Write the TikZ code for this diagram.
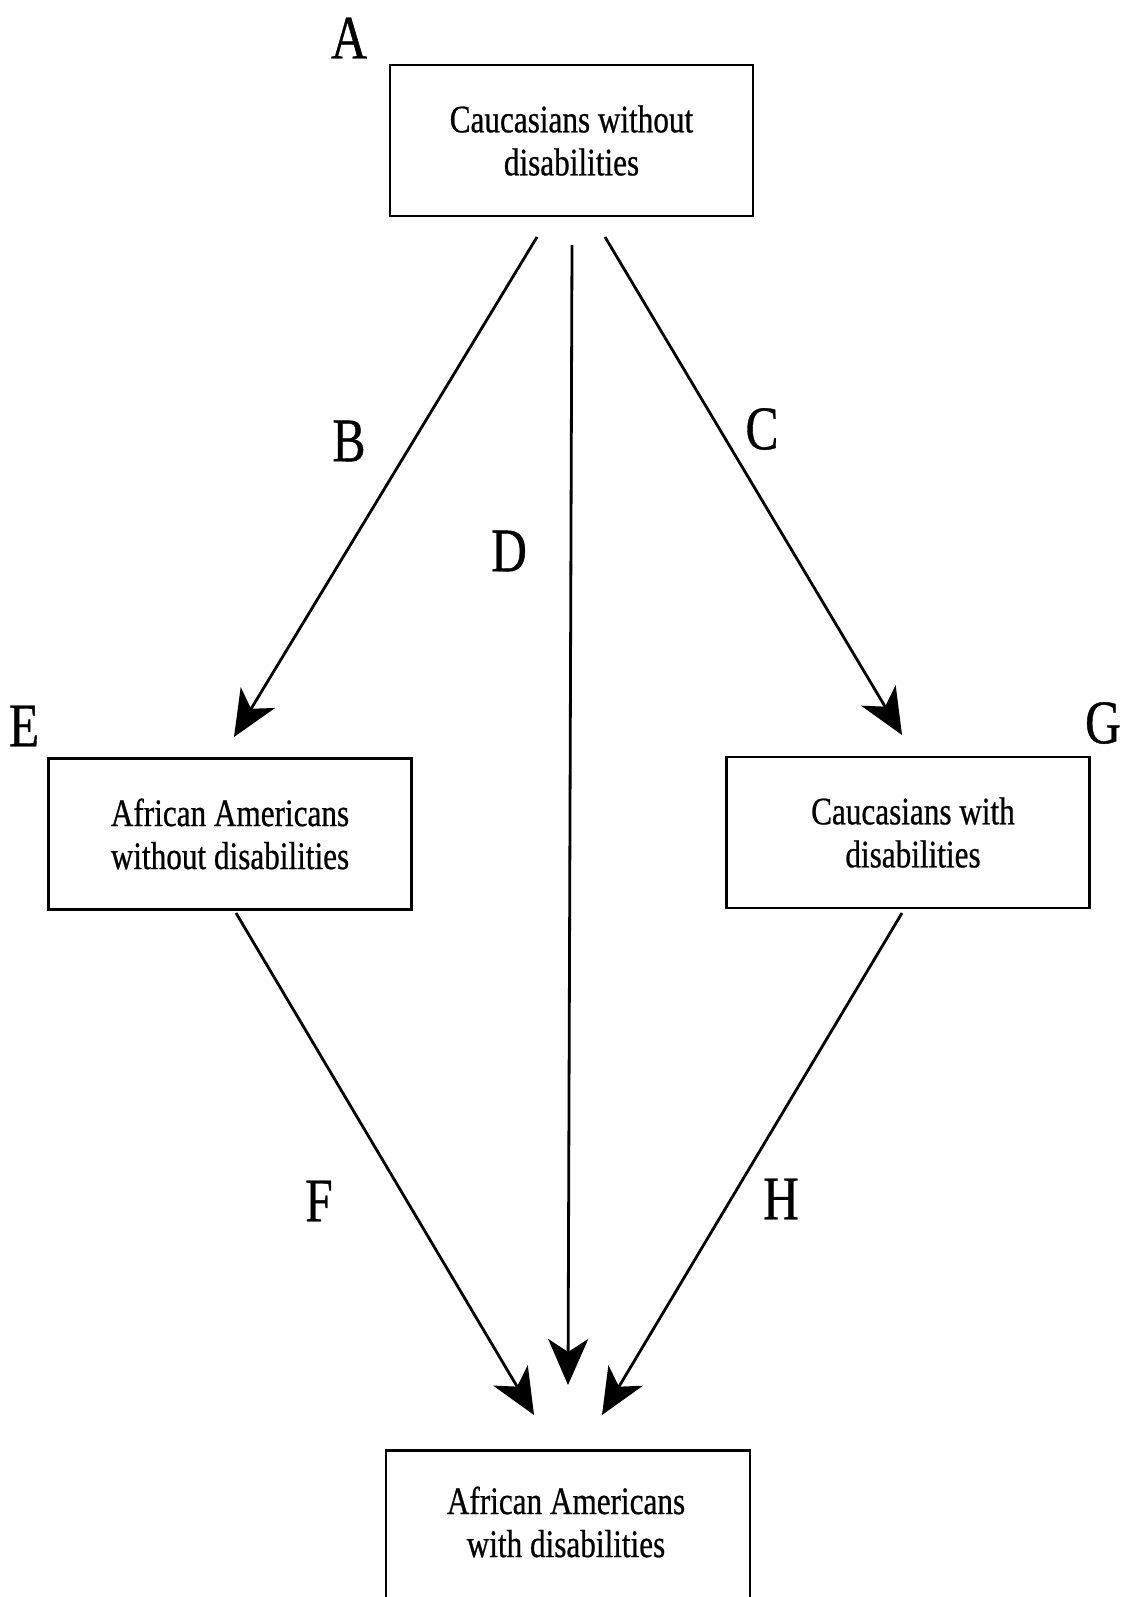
\documentclass[tikz,border=0pt]{standalone}
\usepackage{fontspec}
\setmainfont{Liberation Serif}[FakeStretch=0.8, FakeBold=0.6]
\usetikzlibrary{arrows.meta}
\begin{document}
\begin{tikzpicture}[x=1pt,y=-1pt,
  box/.style={draw, line width=2.8pt, minimum width=363pt, minimum height=151pt, inner sep=0pt},
  boxtext/.style={font=\fontsize{39}{43}\selectfont, align=center, inner sep=0pt},
  letter/.style={font=\fontsize{62}{62}\selectfont, inner sep=0pt},
  link/.style={line width=2.8pt, -{Stealth[length=46pt,width=40pt,inset=13pt]}}]
  \useasboundingbox (0,0) rectangle (1125,1597);
  \clip (0,0) rectangle (1125,1597);

  % groups
  \node[box, boxtext] (cwo) at (571.5,140.5) {Caucasians without\\disabilities};
  \node[box, boxtext] (awo) at (230,834) {African Americans\\without disabilities};
  \node[box] (cw) at (908,832.5) {};
  \node[boxtext] (cwtext) at (913,832.5) {Caucasians with\\disabilities};
  \node[box, minimum width=364pt, minimum height=190pt, anchor=north] (aw) at (568,1449) {};
  \node[boxtext] (awtext) at (566,1522) {African Americans\\with disabilities};

  % path labels
  \node[letter] (la) at (349,38) {A};
  \node[letter] (lb) at (349,441) {B};
  \node[letter] (lc) at (762,429) {C};
  \node[letter] (ld) at (509,551) {D};
  \node[letter] (le) at (24,726) {E};
  \node[letter] (lg) at (1103,723) {G};
  \node[letter] (lf) at (319,1201) {F};
  \node[letter] (lh) at (781,1199) {H};

  % connector end points
  \coordinate (b0) at (537,237);  \coordinate (b1) at (234,737);
  \coordinate (d0) at (572,245);  \coordinate (d1) at (568,1385);
  \coordinate (c0) at (605,237);  \coordinate (c1) at (902,735);
  \coordinate (f0) at (236,913);  \coordinate (f1) at (534,1415);
  \coordinate (h0) at (902,913);  \coordinate (h1) at (602,1415);

  \draw[link] (b0) -- (b1);
  \draw[link] (d0) -- (d1);
  \draw[link] (c0) -- (c1);
  \draw[link] (f0) -- (f1);
  \draw[link] (h0) -- (h1);
\end{tikzpicture}
\end{document}
